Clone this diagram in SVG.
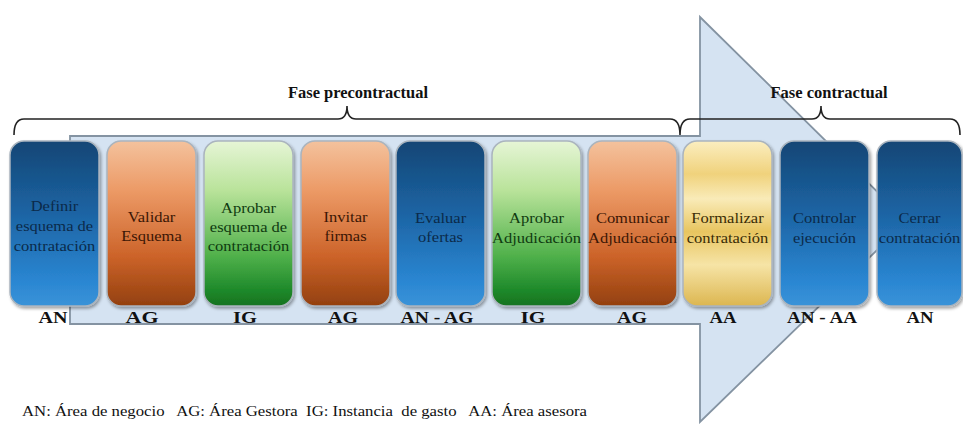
<svg xmlns="http://www.w3.org/2000/svg" width="963" height="424" viewBox="0 0 963 424">
<style>
text{font-family:'Liberation Serif','Times New Roman',Times,'DejaVu Serif',serif}
.box{stroke:#aab4be;stroke-width:1.5}
.bt{font-size:15px;text-anchor:middle}
.lab{font-size:16px;font-weight:bold;fill:#111;text-anchor:middle}
.head{font-size:17px;font-weight:bold;fill:#111;text-anchor:middle}
.leg{font-size:14px;fill:#111}
.brace{fill:none;stroke:#222;stroke-width:1.6}
.tb{fill:#0b2a4a}.to{fill:#3b1605}.tg{fill:#0f3a10}.ty{fill:#3a2c05}
</style>
<defs>
<linearGradient id="gb" x1="0" y1="0" x2="0" y2="1">
<stop offset="0" stop-color="#134675"/><stop offset="0.45" stop-color="#1d65a5"/><stop offset="0.85" stop-color="#2a86d2"/><stop offset="1" stop-color="#3a93d8"/>
</linearGradient>
<linearGradient id="go" x1="0" y1="0" x2="0" y2="1">
<stop offset="0" stop-color="#f4c29d"/><stop offset="0.3" stop-color="#ec9a66"/><stop offset="0.7" stop-color="#cc6329"/><stop offset="1" stop-color="#93400f"/>
</linearGradient>
<linearGradient id="gg" x1="0" y1="0" x2="0" y2="1">
<stop offset="0" stop-color="#e6f5d6"/><stop offset="0.3" stop-color="#b9e39a"/><stop offset="0.7" stop-color="#4fb04a"/><stop offset="0.9" stop-color="#1f8a2b"/><stop offset="1" stop-color="#16721f"/>
</linearGradient>
<linearGradient id="gy" x1="0" y1="0" x2="0" y2="1">
<stop offset="0" stop-color="#fbeec0"/><stop offset="0.2" stop-color="#f0d27c"/><stop offset="0.35" stop-color="#f9ebb8"/><stop offset="0.55" stop-color="#e8c560"/><stop offset="0.75" stop-color="#f6e4a6"/><stop offset="1" stop-color="#dcb650"/>
</linearGradient>
<filter id="sh" x="-10%" y="-10%" width="130%" height="130%">
<feDropShadow dx="1.5" dy="2" stdDeviation="1.5" flood-color="#000" flood-opacity="0.35"/>
</filter>
</defs>
<rect width="963" height="424" fill="#ffffff"/>

<g id="arrow">
<polygon points="70,136 700,136 700,17 907,221 700,422 700,324 70,324" fill="#d5e3f2" stroke="#8493a2" stroke-width="1.8" stroke-linejoin="miter"/>
</g>

<g id="braces">
<path class="brace" d="M14,135 Q14,119 24,119 L338,119 Q347,119 347,106 Q347,119 356,119 L670,119 Q680,119 680,135 Q680,119 690,119 L812,119 Q821,119 821,106 Q821,119 830,119 L950,119 Q960,119 960,135"/>
<text class="head" x="358" y="98" textLength="140" lengthAdjust="spacingAndGlyphs">Fase precontractual</text>
<text class="head" x="829" y="98" textLength="117" lengthAdjust="spacingAndGlyphs">Fase contractual</text>
</g>

<g id="n1">
<rect class="box" x="10" y="141" width="89" height="165" rx="14" fill="url(#gb)" filter="url(#sh)"/>
<g transform="translate(54.5,0) scale(1.1,1)"><text class="bt tb" x="0" y="211">Definir</text><text class="bt tb" x="0" y="231">esquema de</text><text class="bt tb" x="0" y="251">contratación</text></g>
<text class="lab" x="53" y="323" textLength="29" lengthAdjust="spacingAndGlyphs">AN</text>
</g>
<g id="n2">
<rect class="box" x="107" y="141" width="89" height="165" rx="14" fill="url(#go)" filter="url(#sh)"/>
<g transform="translate(151.5,0) scale(1.1,1)"><text class="bt to" x="0" y="222">Validar</text><text class="bt to" x="0" y="241">Esquema</text></g>
<text class="lab" x="142" y="323" textLength="33" lengthAdjust="spacingAndGlyphs">AG</text>
</g>
<g id="n3">
<rect class="box" x="204" y="141" width="89" height="165" rx="14" fill="url(#gg)" filter="url(#sh)"/>
<g transform="translate(248.5,0) scale(1.1,1)"><text class="bt tg" x="0" y="213">Aprobar</text><text class="bt tg" x="0" y="232">esquema de</text><text class="bt tg" x="0" y="251">contratación</text></g>
<text class="lab" x="245" y="323" textLength="24" lengthAdjust="spacingAndGlyphs">IG</text>
</g>
<g id="n4">
<rect class="box" x="301" y="141" width="89" height="165" rx="14" fill="url(#go)" filter="url(#sh)"/>
<g transform="translate(345.5,0) scale(1.1,1)"><text class="bt to" x="0" y="222">Invitar</text><text class="bt to" x="0" y="241">firmas</text></g>
<text class="lab" x="343" y="323" textLength="30" lengthAdjust="spacingAndGlyphs">AG</text>
</g>
<g id="n5">
<rect class="box" x="396" y="141" width="89" height="165" rx="14" fill="url(#gb)" filter="url(#sh)"/>
<g transform="translate(440.5,0) scale(1.1,1)"><text class="bt tb" x="0" y="223">Evaluar</text><text class="bt tb" x="0" y="242">ofertas</text></g>
<text class="lab" x="437" y="323" textLength="73" lengthAdjust="spacingAndGlyphs">AN - AG</text>
</g>
<g id="n6">
<rect class="box" x="492" y="141" width="89" height="165" rx="14" fill="url(#gg)" filter="url(#sh)"/>
<g transform="translate(536.5,0) scale(1.1,1)"><text class="bt tg" x="0" y="223">Aprobar</text><text class="bt tg" x="0" y="243">Adjudicación</text></g>
<text class="lab" x="533" y="323" textLength="25" lengthAdjust="spacingAndGlyphs">IG</text>
</g>
<g id="n7">
<rect class="box" x="588" y="141" width="89" height="165" rx="14" fill="url(#go)" filter="url(#sh)"/>
<g transform="translate(632.5,0) scale(1.1,1)"><text class="bt to" x="0" y="223">Comunicar</text><text class="bt to" x="0" y="243">Adjudicación</text></g>
<text class="lab" x="632" y="323" textLength="30" lengthAdjust="spacingAndGlyphs">AG</text>
</g>
<g id="n8">
<rect class="box" x="683" y="141" width="89" height="165" rx="14" fill="url(#gy)" filter="url(#sh)"/>
<g transform="translate(727.5,0) scale(1.1,1)"><text class="bt ty" x="0" y="223">Formalizar</text><text class="bt ty" x="0" y="243">contratación</text></g>
<text class="lab" x="723" y="323" textLength="27" lengthAdjust="spacingAndGlyphs">AA</text>
</g>
<g id="n9">
<rect class="box" x="780" y="141" width="89" height="165" rx="14" fill="url(#gb)" filter="url(#sh)"/>
<g transform="translate(824.5,0) scale(1.1,1)"><text class="bt tb" x="0" y="223">Controlar</text><text class="bt tb" x="0" y="243">ejecución</text></g>
<text class="lab" x="822" y="323" textLength="70" lengthAdjust="spacingAndGlyphs">AN - AA</text>
</g>
<g id="n10">
<rect class="box" x="877" y="141" width="85" height="165" rx="14" fill="url(#gb)" filter="url(#sh)"/>
<g transform="translate(919.5,0) scale(1.1,1)"><text class="bt tb" x="0" y="223">Cerrar</text><text class="bt tb" x="0" y="243">contratación</text></g>
<text class="lab" x="920" y="323" textLength="27" lengthAdjust="spacingAndGlyphs">AN</text>
</g>

<g id="legend">
<text class="leg" x="22" y="416" xml:space="preserve" textLength="565" lengthAdjust="spacingAndGlyphs">AN: Área de negocio   AG: Área Gestora  IG: Instancia  de gasto   AA: Área asesora</text>
</g>
</svg>
